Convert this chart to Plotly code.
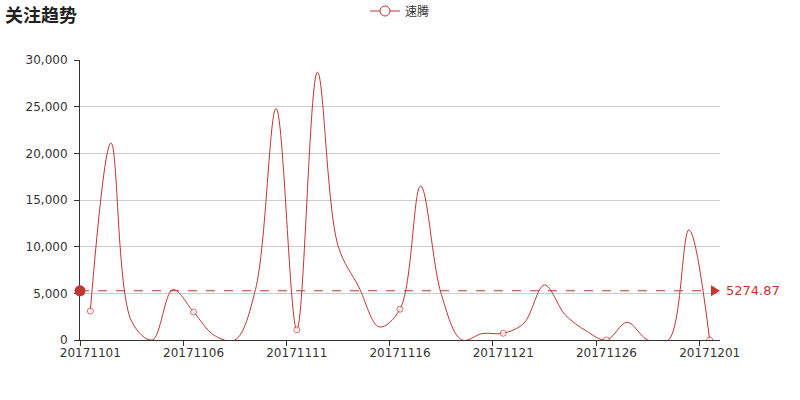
import plotly.graph_objects as go

dates = ["201711%02d" % d for d in range(1, 31)] + ["20171201"]
values = [3100, 21100, 2000, 0, 5400, 3000, 500, 0, 5400, 24800,
          1100, 28700, 10100, 5700, 1400, 3300, 16500, 4900, 0, 700,
          721, 1800, 5900, 2700, 1000, 0, 1900, 0, 0, 11800, 0]
series_name = "速腾"
title_text = "关注趋势"
y_ticks = [0, 5000, 10000, 15000, 20000, 25000, 30000]

RED = "#c23531"
avg = sum(values) / len(values)

marker_sizes = [6 if i % 5 == 0 else 0 for i in range(len(values))]

fig = go.Figure()
fig.add_trace(go.Scatter(
    x=dates, y=values, mode="lines+markers", showlegend=False,
    line=dict(color=RED, width=1, shape="spline", smoothing=1.0),
    marker=dict(size=marker_sizes, color="white", line=dict(color=RED, width=1)),
    cliponaxis=True,
))
# legend entry
fig.add_trace(go.Scatter(
    x=[None], y=[None], mode="lines+markers", name=series_name,
    line=dict(color=RED, width=1),
    marker=dict(size=10, color="white", line=dict(color=RED, width=1)),
))

# average mark line
fig.add_shape(type="line", xref="paper", yref="y", x0=0, x1=0.985, y0=avg, y1=avg,
              line=dict(color=RED, width=1, dash="dash"), layer="above")
fig.add_shape(type="circle", xref="paper", yref="y", xsizemode="pixel", ysizemode="pixel",
              xanchor=0, yanchor=avg, x0=-5.5, x1=5.5, y0=-5.5, y1=5.5,
              fillcolor=RED, line=dict(color=RED, width=0), layer="above")
fig.add_shape(type="path", xref="paper", yref="y", xsizemode="pixel", ysizemode="pixel",
              xanchor=1, yanchor=avg, path="M -9,-5.5 L 0,0 L -9,5.5 Z",
              fillcolor=RED, line=dict(color=RED, width=0), layer="above")
fig.add_annotation(xref="paper", yref="y", x=1, y=avg, text="%.2f" % avg,
                   showarrow=False, xanchor="left", xshift=4,
                   font=dict(color=RED, size=13, family="DejaVu Sans"))

fig.update_layout(
    width=800, height=400,
    margin=dict(l=80, r=80, t=60, b=60, autoexpand=False),
    paper_bgcolor="white", plot_bgcolor="white",
    font=dict(family="DejaVu Sans", size=12, color="#333"),
    title=dict(text="<b>" + title_text + "</b>", x=0, xanchor="left", xref="container",
               y=0.96, yanchor="middle", yref="container", pad=dict(l=5),
               font=dict(family="Noto Sans CJK SC", size=18, color="#222")),
    legend=dict(orientation="h", x=0.5, xanchor="center", y=1.175, yanchor="middle",
                yref="paper", font=dict(family="Noto Sans CJK SC", size=12, color="#333"),
                itemwidth=30),
    xaxis=dict(type="category", range=[-0.5, len(dates) - 0.5], tickmode="linear", tick0=0, dtick=5,
               tickson="boundaries", ticks="outside", ticklen=5, tickcolor="#333",
               tickangle=0, automargin=False, ticklabelstandoff=2,
               showline=True, linecolor="#333", linewidth=1, showgrid=False,
               tickfont=dict(size=12, color="#333")),
    yaxis=dict(range=[0, 30000], tickvals=y_ticks, tickformat=",d", ticks="outside", ticklen=5,
               tickcolor="#333", showline=True, linecolor="#333", linewidth=1,
               showgrid=True, gridcolor="#ccc", zeroline=False, automargin=False,
               ticklabelstandoff=4, tickfont=dict(size=12, color="#333")),
)

fig.write_html("out.html", config={"displayModeBar": False},
               post_script="document.body.style.margin='0px';")
